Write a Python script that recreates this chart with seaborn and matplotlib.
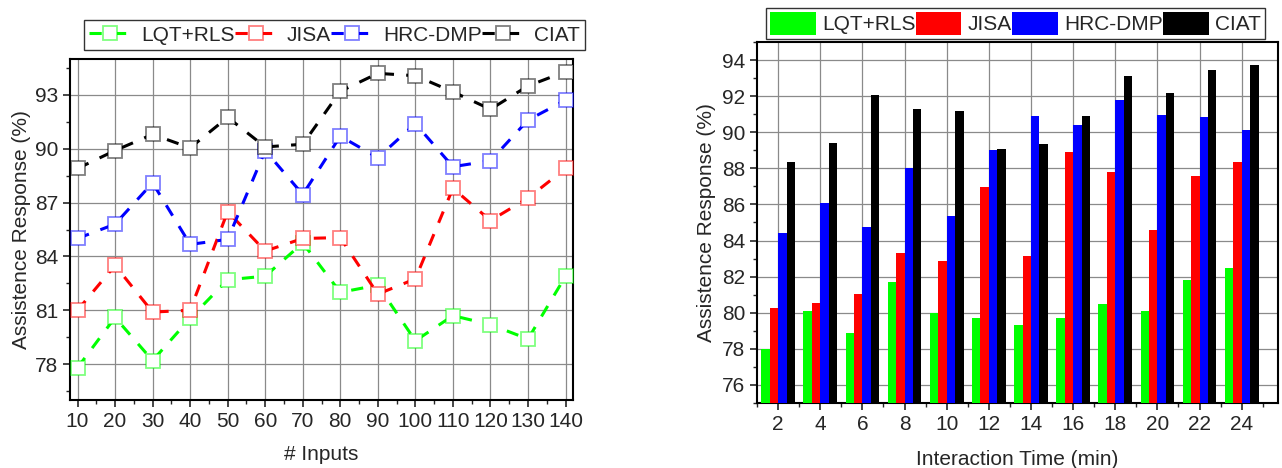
import seaborn as sns
import matplotlib.pyplot as plt
import pandas as pd
from matplotlib.colors import to_rgba
from matplotlib.ticker import MultipleLocator, FixedLocator

methods = ['LQT+RLS', 'JISA', 'HRC-DMP', 'CIAT']
colors = ['#00ff00', '#ff0000', '#0000ff', '#000000']

# left chart: response vs number of inputs
inputs = [10, 20, 30, 40, 50, 60, 70, 80, 90, 100, 110, 120, 130, 140]
lqt_inputs = [77.8, 80.6, 78.2, 80.55, 82.7, 82.9, 84.75, 82.0, 82.4, 79.3, 80.7, 80.2, 79.4, 82.9]
jisa_inputs = [81.0, 83.5, 80.9, 81.0, 86.5, 84.3, 85.0, 85.05, 81.9, 82.75, 87.8, 86.0, 87.25, 88.9]
hrc_inputs = [85.0, 85.8, 88.1, 84.67, 84.95, 89.9, 87.45, 90.7, 89.5, 91.4, 89.0, 89.33, 91.6, 92.7]
ciat_inputs = [88.9, 89.9, 90.8, 90.05, 91.75, 90.1, 90.25, 93.2, 94.2, 94.07, 93.17, 92.2, 93.5, 94.3]

# right chart: response vs interaction time
times = [2, 4, 6, 8, 10, 12, 14, 16, 18, 20, 22, 24]
lqt_time = [78.0, 80.1, 78.9, 81.7, 80.0, 79.7, 79.3, 79.7, 80.5, 80.1, 81.8, 82.5]
jisa_time = [80.25, 80.55, 81.05, 83.3, 82.85, 86.96, 83.15, 88.9, 87.78, 84.6, 87.6, 88.33]
hrc_time = [84.4, 86.07, 84.77, 88.0, 85.37, 89.0, 90.88, 90.4, 91.8, 90.98, 90.82, 90.13]
ciat_time = [88.35, 89.43, 92.07, 91.3, 91.15, 89.05, 89.33, 90.9, 93.1, 92.2, 93.43, 93.74]

sns.set_style('ticks')
plt.rcParams['font.family'] = ['Liberation Sans', 'DejaVu Sans']
plt.rcParams['font.size'] = 15

df_in = pd.DataFrame({
    'inputs': inputs * 4,
    'value': lqt_inputs + jisa_inputs + hrc_inputs + ciat_inputs,
    'method': [m for m in methods for _ in inputs],
})
df_t = pd.DataFrame({
    'time': times * 4,
    'value': lqt_time + jisa_time + hrc_time + ciat_time,
    'method': [m for m in methods for _ in times],
})
pal = dict(zip(methods, colors))

fig = plt.figure(figsize=(12.82, 4.68), dpi=100)
ax1 = fig.add_axes([0.0546, 0.1453, 0.3924, 0.7286])
ax2 = fig.add_axes([0.5905, 0.1389, 0.4060, 0.7714])

grid_kw = dict(color='#8a8a8a', linewidth=0.9)

# ---- left: dashed lines with open squares
sns.lineplot(data=df_in, x='inputs', y='value', hue='method', style='method',
             palette=pal, markers={m: 's' for m in methods},
             dashes={m: (4, 4) for m in methods}, linewidth=2.2,
             markersize=10, errorbar=None, legend=False, ax=ax1, zorder=3)
for line, c in zip(ax1.lines, colors):
    line.set_markerfacecolor('white')
    line.set_markeredgecolor(to_rgba(c, 0.5))
    line.set_markeredgewidth(1.3)
ax1.set_xlim(8, 142)
ax1.set_ylim(76, 95)
ax1.set_xticks(inputs)
ax1.xaxis.set_minor_locator(MultipleLocator(5))
ax1.yaxis.set_major_locator(FixedLocator([78, 81, 84, 87, 90, 93]))
ax1.yaxis.set_minor_locator(MultipleLocator(1.5))
ax1.grid(True, which='major', **grid_kw)
ax1.set_axisbelow(True)
ax1.set_xlabel('# Inputs', fontsize=15, labelpad=10)
ax1.set_ylabel('Assistence Response (%)', fontsize=15, labelpad=3)
ax1.legend(handles=ax1.lines[:4], labels=methods, loc='center',
           bbox_to_anchor=(0.261, 0.925), bbox_transform=fig.transFigure,
           ncol=4, frameon=True, fancybox=False, edgecolor='#333333',
           framealpha=1, handlelength=2.0, handletextpad=0.5,
           columnspacing=0.0, borderpad=0.25, fontsize=15)

# ---- right: grouped bars
sns.barplot(data=df_t, x='time', y='value', hue='method', palette=pal,
            saturation=1, width=0.8, errorbar=None, ax=ax2, zorder=3, linewidth=0)
ax2.set_xlim(-0.5, 11.85)
ax2.set_ylim(75, 95)
ax2.xaxis.set_minor_locator(FixedLocator([i + 0.5 for i in range(-1, 12)]))
ax2.yaxis.set_major_locator(MultipleLocator(2))
ax2.yaxis.set_minor_locator(MultipleLocator(1))
ax2.yaxis.set_major_formatter(plt.FuncFormatter(lambda v, p: f'{v:.0f}'))
ax2.grid(True, which='major', **grid_kw)
ax2.set_axisbelow(True)
ax2.set_xlabel('Interaction Time (min)', fontsize=15, labelpad=12)
ax2.set_ylabel('Assistence Response (%)', fontsize=15, labelpad=4)
handles, labels = ax2.get_legend_handles_labels()
ax2.legend(handles=handles, labels=methods, loc='center',
           bbox_to_anchor=(0.792, 0.95), bbox_transform=fig.transFigure,
           ncol=4, frameon=True, fancybox=False, edgecolor='#333333',
           framealpha=1, handlelength=2.2, handleheight=1.3,
           handletextpad=0.3, columnspacing=0.0, borderpad=0.2, fontsize=15)

for ax in (ax1, ax2):
    for s in ax.spines.values():
        s.set_visible(True)
        s.set_linewidth(1.5)
        s.set_color('black')
    ax.tick_params(which='major', direction='out', length=5, width=1.2, labelsize=15)
    ax.tick_params(which='minor', direction='out', length=3, width=1.0)

fig.savefig('out.png', dpi=100)
